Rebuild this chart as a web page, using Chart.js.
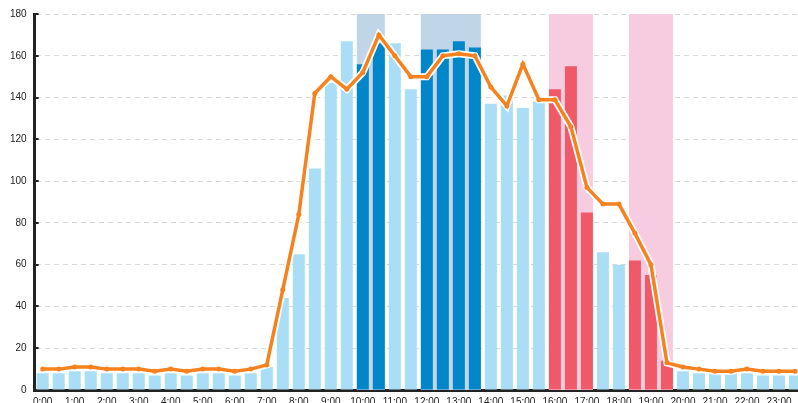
<!DOCTYPE html>
<html>
<head>
<meta charset="utf-8">
<script src="https://cdn.jsdelivr.net/npm/chart.js@4/dist/chart.umd.min.js"></script>
<style>
  html, body { margin: 0; padding: 0; background: #fff; overflow: hidden; width: 798px; height: 403px; }
  #wrap { position: relative; width: 807px; height: 414px; }
</style>
</head>
<body>
<div id="wrap"><canvas id="chart"></canvas></div>
<script>
const hours = [];
for (let h = 0; h < 24; h++) {
  hours.push(h + ':00', h + ':30');
}

const barValues = [
  8, 8, 9, 9, 8, 8, 8, 7, 8, 7, 8, 8, 7, 8, 11, 44,
  65, 106, 147, 167, 156, 166, 166, 144, 163, 163, 167, 164, 137, 141, 135, 138,
  144, 155, 85, 66, 60, 62, 55, 14, 9, 8, 8, 8, 8, 7, 7, 7
];

const lineValues = [
  10, 10, 11, 11, 10, 10, 10, 9, 10, 9, 10, 10, 9, 10, 12, 48,
  84, 142, 150, 144, 152, 170, 160, 150, 150, 160, 161, 160, 145, 136, 156, 139,
  139, 126, 97, 89, 89, 75, 60, 13, 11, 10, 9, 9, 10, 9, 9, 9
];

const yTicks = [0, 20, 40, 60, 80, 100, 120, 140, 160, 180];

// index ranges (first, last) of the highlighted slots
const blueBands = [[20, 21], [24, 27]];
const pinkBands = [[32, 34], [37, 39]];

const LIGHT_BLUE = '#aadef7';
const DARK_BLUE = '#0086c9';
const RED = '#f05a68';
const BLUE_BAND = '#c1d5e8';
const PINK_BAND = '#f7cce1';
const ORANGE = '#f5821f';
const AXIS = '#222222';

function inBands(i, bands) {
  return bands.some(([a, b]) => i >= a && i <= b);
}

const barColors = barValues.map((v, i) => {
  if (inBands(i, blueBands)) return DARK_BLUE;
  if (inBands(i, pinkBands)) return RED;
  return LIGHT_BLUE;
});

const bandPlugin = {
  id: 'bands',
  beforeDatasetsDraw(chart) {
    const meta = chart.getDatasetMeta(2);
    const { ctx, chartArea, scales } = chart;
    const top = scales.y.getPixelForValue(yTicks[yTicks.length - 1]);
    const bottom = scales.y.getPixelForValue(0);
    const drawBand = (band, color) => {
      const first = meta.data[band[0]];
      const last = meta.data[band[1]];
      const left = first.x - first.width / 2;
      const right = last.x + last.width / 2;
      ctx.save();
      ctx.fillStyle = color;
      ctx.fillRect(left, top, right - left, bottom - top);
      ctx.restore();
    };
    blueBands.forEach((b) => drawBand(b, BLUE_BAND));
    pinkBands.forEach((b) => drawBand(b, PINK_BAND));

    // short inward tick marks on the y axis
    ctx.save();
    ctx.strokeStyle = AXIS;
    ctx.lineWidth = 2;
    yTicks.forEach((t) => {
      const y = Math.round(scales.y.getPixelForValue(t));
      ctx.beginPath();
      ctx.moveTo(chartArea.left - 1, y);
      ctx.lineTo(chartArea.left + 4, y);
      ctx.stroke();
    });
    ctx.restore();
  }
};

const ctx = document.getElementById('chart').getContext('2d');

new Chart(ctx, {
  type: 'bar',
  data: {
    labels: hours,
    datasets: [
      {
        type: 'line',
        data: lineValues,
        borderColor: ORANGE,
        borderWidth: 3.5,
        pointRadius: 2.5,
        pointBackgroundColor: ORANGE,
        pointBorderWidth: 0,
        tension: 0,
        order: 0
      },
      {
        type: 'line',
        data: lineValues,
        borderColor: '#ffffff',
        borderWidth: 7,
        pointRadius: 0,
        tension: 0,
        order: 1
      },
      {
        data: barValues,
        backgroundColor: barColors,
        categoryPercentage: 1,
        barPercentage: 0.75,
        order: 2
      }
    ]
  },
  options: {
    responsive: true,
    maintainAspectRatio: false,
    animation: false,
    layout: {
      padding: { top: 14, left: 2, right: 0, bottom: 0 }
    },
    plugins: {
      legend: { display: false },
      tooltip: { enabled: false }
    },
    scales: {
      x: {
        grid: { display: false, drawTicks: false },
        border: { display: true, color: AXIS, width: 3 },
        ticks: {
          autoSkip: false,
          maxRotation: 0,
          padding: 6,
          color: AXIS,
          font: { family: 'Liberation Sans', size: 10 },
          callback: (value, index) => (index % 2 === 0 ? hours[index] : '')
        }
      },
      y: {
        min: 0,
        max: 180,
        afterBuildTicks: (scale) => {
          scale.ticks = yTicks.map((v) => ({ value: v }));
        },
        grid: {
          color: '#d9d9d9',
          lineWidth: 1,
          drawTicks: false
        },
        border: { display: true, color: AXIS, width: 3, dash: [5, 4] },
        ticks: {
          padding: 8,
          color: AXIS,
          font: { family: 'Liberation Sans', size: 10 }
        }
      }
    }
  },
  plugins: [bandPlugin]
});
</script>
</body>
</html>
